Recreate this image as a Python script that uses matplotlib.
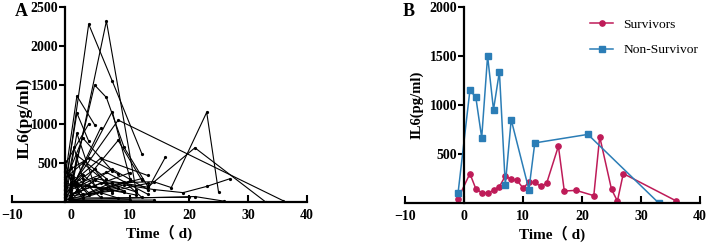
import matplotlib
matplotlib.use("Agg")
import matplotlib.pyplot as plt

plt.rcParams["font.family"] = ["Liberation Serif", "Noto Sans CJK SC"]

# panel A: individual patient trajectories (day, IL6)
patients = [
    ([-1, 3, 7, 12], [150, 2280, 1550, 620]),
    ([-0.3, 6, 11], [40, 2320, 160]),
    ([0, 4, 6, 9, 13], [220, 1500, 1340, 700, 200]),
    ([-1, 1, 4], [320, 1360, 990]),
    ([-1, 8, 36], [90, 1050, 15]),
    ([-1, 5, 14, 17, 23, 25], [60, 240, 260, 185, 1150, 130]),
    ([-1, 4, 13, 21, 33], [120, 300, 190, 695, 0]),
    ([0, 9, 14, 19, 23, 27], [40, 220, 160, 120, 200, 300]),
    ([0, 7, 13, 16], [90, 420, 160, 575]),
    ([-1, 21, 26], [30, 70, 10]),
    ([-1, 3], [480, 1000]),
    ([-1, 1, 3], [200, 1140, 780]),
    ([0, 5], [150, 945]),
    ([-1, 7, 10], [20, 1160, 300]),
    ([-1, 2, 7], [260, 820, 400]),
    ([0, 8, 12], [60, 790, 280]),
    ([-1, 3, 8], [380, 560, 360]),
    ([0, 10], [100, 375]),
    ([-1, 5, 13], [170, 560, 340]),
    ([0, 1, 4], [440, 880, 210]),
    ([-1, 2, 6, 11], [300, 500, 250, 130]),
    ([0, 4, 9], [30, 280, 140]),
    ([-1, 6, 12], [220, 180, 300]),
    ([0, 3, 7], [310, 120, 250]),
    ([-1, 2, 5, 10], [100, 350, 150, 270]),
    ([0, 6, 13], [200, 380, 100]),
    ([-1, 1, 3, 8], [60, 250, 90, 180]),
    ([0, 11], [250, 90]),
    ([-1, 4, 7], [150, 420, 120]),
    ([0, 2, 9, 12], [120, 90, 260, 60]),
    ([-1, 10], [10, 30]),
    ([0, 14], [20, 25]),
    ([-1, 20], [50, 60]),
    ([0, 3, 5], [350, 200, 60]),
    ([-1, 1, 2], [400, 150, 50]),
    ([0, 7, 13], [80, 140, 240]),
    ([-1, 0, 2], [520, 260, 100]),
    ([0, 5, 8], [10, 120, 50]),
    ([-1, 9], [240, 130]),
    ([0, 1, 6], [150, 600, 300]),
    ([-1, 0.5, 2], [100, 700, 300]),
    ([-1, 0, 1], [0, 450, 200]),
]

# panel B: group medians
surv_day = [-1, 1, 2, 3, 4, 5, 6, 7, 8, 9, 10, 11, 12, 13, 14, 16, 17, 19, 22, 23, 25, 26, 27, 36]
surv_il6 = [45, 300, 146, 105, 100, 129, 167, 275, 243, 230, 153, 210, 210, 170, 200, 580, 122, 129, 75, 677, 140, 20, 300, 20]
nonsurv_day = [-1, 1, 2, 3, 4, 5, 6, 7, 8, 11, 12, 21, 33]
nonsurv_il6 = [105, 1150, 1080, 666, 1500, 952, 1340, 184, 850, 137, 613, 700, 0]

x_ticks = [-10, 0, 10, 20, 30, 40]

fig = plt.figure(figsize=(7.08, 2.44), dpi=100)
axA = fig.add_axes([12 / 708, 42 / 244, 295 / 708, 195 / 244])
axB = fig.add_axes([405 / 708, 41 / 244, 295 / 708, 196 / 244])

for days, vals in patients:
    axA.plot(days, vals, color="black", linewidth=0.8, marker="o", markersize=1.3)

red, blue = "#be1b58", "#2b7db6"
axB.plot(surv_day, surv_il6, color=red, linewidth=1.1, marker="o", markersize=3.8, label="Survivors")
axB.plot(nonsurv_day, nonsurv_il6, color=blue, linewidth=1.1, marker="s", markersize=3.8, label="Non-Survivor")

for ax, ymax, yspine, yt in [(axA, 2500, -1, [500, 1000, 1500, 2000, 2500]),
                             (axB, 2000, 0, [500, 1000, 1500, 2000])]:
    ax.set_xlim(-10, 40)
    ax.set_ylim(0, ymax)
    ax.spines["top"].set_visible(False)
    ax.spines["right"].set_visible(False)
    ax.spines["left"].set_position(("data", yspine))
    ax.spines["left"].set_linewidth(1.6)
    ax.spines["bottom"].set_linewidth(1.6)
    ax.set_xticks(x_ticks)
    ax.set_yticks(yt)
    ax.tick_params(axis="x", direction="in", length=5, width=1.5, pad=5, labelsize=10)
    ax.tick_params(axis="y", direction="out", length=4, width=1.5, pad=1, labelsize=10)
    for lab in ax.get_xticklabels() + ax.get_yticklabels():
        lab.set_fontweight("bold")
    ax.set_xlabel("Time\uff08 d)", fontsize=11, fontweight="bold", labelpad=2)
    ax.patch.set_alpha(0)

axA.set_ylabel("IL6(pg/ml)", fontsize=12.5, fontweight="bold")
axA.yaxis.set_label_coords(0.068, 0.43)
axB.set_ylabel("IL6(pg/ml)", fontsize=10.5, fontweight="bold")
axB.yaxis.set_label_coords(0.061, 0.5)

fig.text(21 / 708, 1 - 12 / 244, "A", fontsize=13, fontweight="bold", ha="center", va="center")
fig.text(409 / 708, 1 - 12 / 244, "B", fontsize=13, fontweight="bold", ha="center", va="center")

axB.legend(loc="upper right", bbox_to_anchor=(1.035, 1.005), frameon=False, fontsize=9.7,
           handlelength=1.7, handletextpad=0.75, labelspacing=1.0)

fig.savefig("out.png", dpi=100)
